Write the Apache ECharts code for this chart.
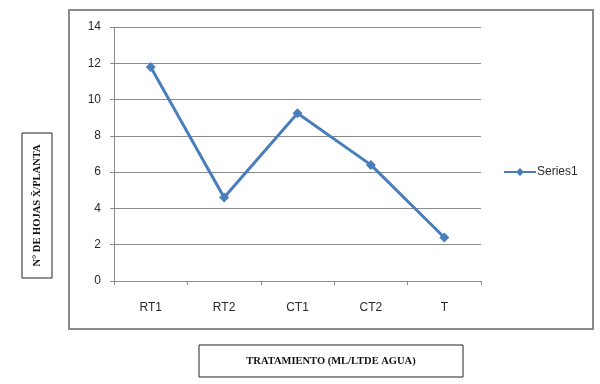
<!DOCTYPE html>
<html>
<head>
<meta charset="utf-8">
<script src="https://cdn.jsdelivr.net/npm/echarts@6/dist/echarts.min.js"></script>
<style>html,body{margin:0;padding:0;background:#fff}#c{width:600px;height:384px}</style>
</head>
<body>
<div id="c"></div>
<script>
const categories = ['RT1', 'RT2', 'CT1', 'CT2', 'T'];
const series1 = [11.8, 4.6, 9.25, 6.4, 2.4];
const yTicks = { min: 0, max: 14, interval: 2 };
const seriesName = 'Series1';
const xTitle = 'TRATAMIENTO (ML/LTDE AGUA)';
const yTitle = 'N° DE HOJAS X\u0304/PLANTA';

const chart = echarts.init(document.getElementById('c'), null, { renderer: 'canvas' });
const labelFont = { fontFamily: 'Liberation Sans', fontSize: 12, color: '#2a2a2a' };
chart.setOption({
  animation: false,
  backgroundColor: '#fff',
  grid: { left: 114, top: 27, right: 119, bottom: 103 },
  xAxis: {
    type: 'category', data: categories, boundaryGap: true,
    axisLine: { lineStyle: { color: '#8a8a8a', width: 1 } },
    axisTick: { show: true, length: 4, lineStyle: { color: '#8a8a8a' } },
    axisLabel: Object.assign({ margin: 21 }, labelFont),
    splitLine: { show: false }
  },
  yAxis: {
    type: 'value', min: yTicks.min, max: yTicks.max, interval: yTicks.interval,
    axisLine: { show: true, lineStyle: { color: '#8a8a8a', width: 1 } },
    axisTick: { show: true, length: 4, lineStyle: { color: '#8a8a8a' } },
    axisLabel: Object.assign({ margin: 13 }, labelFont),
    splitLine: { show: true, lineStyle: { color: '#8a8a8a', width: 1 } }
  },
  legend: {
    data: [seriesName], orient: 'vertical', left: 498, top: 161,
    itemWidth: 32, itemHeight: 10, itemGap: 4,
    textStyle: { fontFamily: 'Liberation Sans', fontSize: 12, color: '#2a2a2a', padding: [0, 0, 0, -4] }
  },
  series: [{
    name: seriesName, type: 'line', data: series1,
    symbol: 'diamond', symbolSize: 10,
    lineStyle: { color: '#4a7ebb', width: 3 },
    itemStyle: { color: '#4a7ebb' }
  }],
  graphic: [
    { type: 'rect', shape: { x: 69, y: 10, width: 524, height: 319 }, style: { fill: 'none', stroke: '#8a8a8a', lineWidth: 2 }, z: -1 },
    { type: 'rect', shape: { x: 22, y: 133, width: 30, height: 145 }, style: { fill: '#fff', stroke: '#222', lineWidth: 1 } },
    { type: 'text', x: 37, y: 205.5, rotation: Math.PI / 2,
      style: { text: yTitle, fontFamily: 'Liberation Serif', fontWeight: 'bold', fontSize: 10.5, fill: '#111', align: 'center', verticalAlign: 'middle' } },
    { type: 'rect', shape: { x: 199, y: 345, width: 264, height: 32 }, style: { fill: '#fff', stroke: '#222', lineWidth: 1 } },
    { type: 'text', x: 331, y: 361,
      style: { text: xTitle, fontFamily: 'Liberation Serif', fontWeight: 'bold', fontSize: 10.5, fill: '#111', align: 'center', verticalAlign: 'middle' } }
  ]
});
</script>
</body>
</html>
